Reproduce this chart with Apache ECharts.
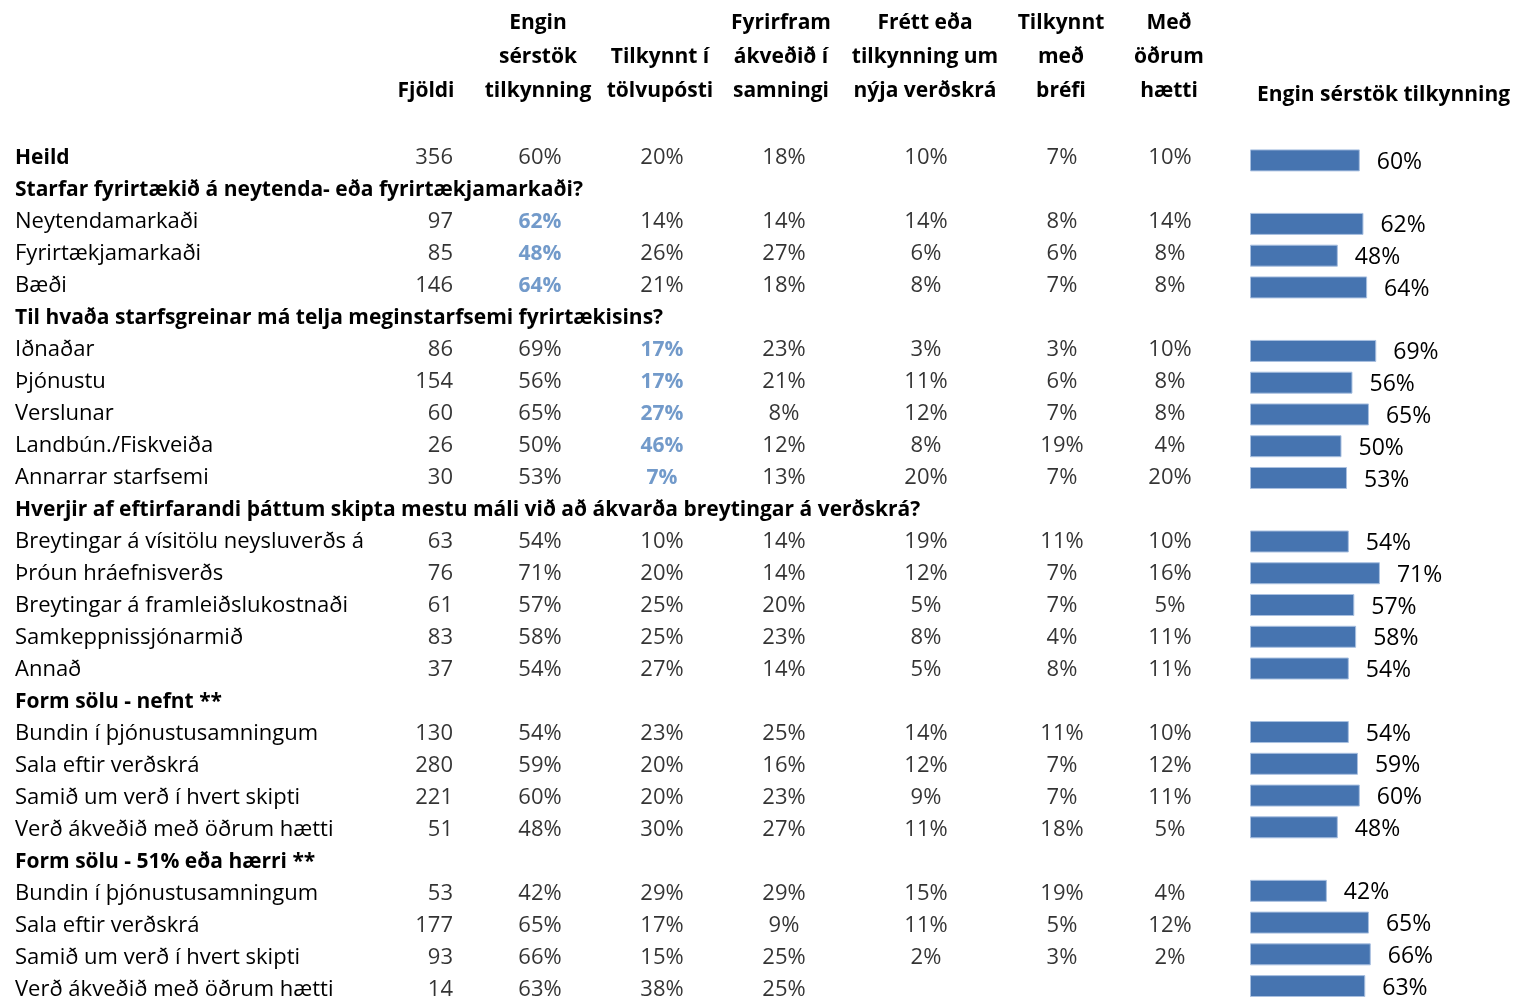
<!DOCTYPE html>
<html>
<head>
<meta charset="utf-8">
<script src="https://cdn.jsdelivr.net/npm/echarts@6/dist/echarts.min.js"></script>
<style>
  html, body { margin: 0; padding: 0; background: #fff; }
  #main { width: 1513px; height: 997px; }
</style>
</head>
<body>
<div id="main"></div>
<script>
// ------------------------- 数据 -------------------------
const rowLabels = [
  'Heild',
  'Starfar fyrirtækið á neytenda- eða fyrirtækjamarkaði?',
  'Neytendamarkaði', 'Fyrirtækjamarkaði', 'Bæði',
  'Til hvaða starfsgreinar má telja meginstarfsemi fyrirtækisins?',
  'Iðnaðar', 'Þjónustu', 'Verslunar', 'Landbún./Fiskveiða', 'Annarrar starfsemi',
  'Hverjir af eftirfarandi þáttum skipta mestu máli við að ákvarða breytingar á verðskrá?',
  'Breytingar á vísitölu neysluverðs á', 'Þróun hráefnisverðs', 'Breytingar á framleiðslukostnaði',
  'Samkeppnissjónarmið', 'Annað',
  'Form sölu - nefnt **',
  'Bundin í þjónustusamningum', 'Sala eftir verðskrá', 'Samið um verð í hvert skipti', 'Verð ákveðið með öðrum hætti',
  'Form sölu - 51% eða hærri **',
  'Bundin í þjónustusamningum', 'Sala eftir verðskrá', 'Samið um verð í hvert skipti', 'Verð ákveðið með öðrum hætti'
];
const boldRows = [0, 1, 5, 11, 17, 22];

const columnHeaders = [
  'Fjöldi',
  'Engin\nsérstök\ntilkynning',
  'Tilkynnt í\ntölvupósti',
  'Fyrirfram\nákveðið í\nsamningi',
  'Frétt eða\ntilkynning um\nnýja verðskrá',
  'Tilkynnt\nmeð\nbréfi',
  'Með\nöðrum\nhætti'
];

const fjoldi    = [356, null, 97, 85, 146, null, 86, 154, 60, 26, 30, null, 63, 76, 61, 83, 37, null, 130, 280, 221, 51, null, 53, 177, 93, 14];
const engin     = [60, null, 62, 48, 64, null, 69, 56, 65, 50, 53, null, 54, 71, 57, 58, 54, null, 54, 59, 60, 48, null, 42, 65, 66, 63];
const tolvupost = [20, null, 14, 26, 21, null, 17, 17, 27, 46, 7, null, 10, 20, 25, 25, 27, null, 23, 20, 20, 30, null, 29, 17, 15, 38];
const samningi  = [18, null, 14, 27, 18, null, 23, 21, 8, 12, 13, null, 14, 14, 20, 23, 14, null, 25, 16, 23, 27, null, 29, 9, 25, 25];
const verdskra  = [10, null, 14, 6, 8, null, 3, 11, 12, 8, 20, null, 19, 12, 5, 8, 5, null, 14, 12, 9, 11, null, 15, 11, 2, null];
const bref      = [7, null, 8, 6, 7, null, 3, 6, 7, 19, 7, null, 11, 7, 7, 4, 8, null, 11, 7, 7, 18, null, 19, 5, 3, null];
const odrum     = [10, null, 14, 8, 8, null, 10, 8, 8, 4, 20, null, 10, 16, 5, 11, 11, null, 10, 12, 11, 5, null, 4, 12, 2, null];

// 高亮（蓝色粗体）的行
const highlightEngin = [2, 3, 4];
const highlightTolvu = [6, 7, 8, 9, 10];

const barTitle = 'Engin sérstök tilkynning';

// ------------------------- 布局 -------------------------
const FONT = '"Open Sans", Lato, sans-serif';
const FS = 22;
const FS_BOLD = 21;
const headerX = [426, 538, 660, 781, 925, 1061, 1169];
const colX = [453, 540, 662, 784, 926, 1062, 1170];
const HIGHLIGHT = '#4F81BD';

const valueColumns = [
  { data: fjoldi, pct: false, hl: [] },
  { data: engin, pct: true, hl: highlightEngin },
  { data: tolvupost, pct: true, hl: highlightTolvu },
  { data: samningi, pct: true, hl: [] },
  { data: verdskra, pct: true, hl: [] },
  { data: bref, pct: true, hl: [] },
  { data: odrum, pct: true, hl: [] }
];

const tableSeries = valueColumns.map((col, c) => ({
  type: 'scatter',
  xAxisIndex: 0,
  yAxisIndex: 0,
  symbolSize: 0,
  silent: true,
  data: col.data.map((v, i) => {
    if (v == null) return null;
    const item = { value: [colX[c], i, v] };
    if (col.hl.includes(i)) {
      item.label = { color: HIGHLIGHT, fontWeight: 'bold', fontSize: FS_BOLD };
    }
    return item;
  }).filter(d => d),
  label: {
    show: true,
    position: c === 0 ? 'left' : 'inside',
    distance: 0,
    align: c === 0 ? 'right' : 'center',
    color: '#000',
    fontFamily: FONT,
    fontSize: FS,
    formatter: p => p.value[2] + (col.pct ? '%' : '')
  }
}));

const chart = echarts.init(document.getElementById('main'));
chart.setOption({
  backgroundColor: '#fff',
  animation: false,
  title: {
    text: barTitle,
    left: 1252,
    top: 80,
    textStyle: { fontFamily: FONT, fontSize: FS_BOLD, fontWeight: 'bold', color: '#000' }
  },
  grid: [
    { left: 0, top: 142, width: 1240, height: 864, outerBoundsMode: 'none', containLabel: false },
    { left: 1250, top: 144.5, width: 183, height: 857.5, outerBoundsMode: 'none', containLabel: false }
  ],
  xAxis: [
    {
      gridIndex: 0, type: 'value', min: 0, max: 1240, position: 'top',
      axisLine: { show: false }, axisTick: { show: false }, splitLine: { show: false },
      axisLabel: {
        customValues: headerX,
        formatter: v => columnHeaders[headerX.indexOf(v)] || '',
        fontFamily: FONT, fontSize: FS_BOLD, fontWeight: 'bold', color: '#000',
        lineHeight: 34, margin: 34
      }
    },
    {
      gridIndex: 1, type: 'value', min: 0, max: 100, show: false
    }
  ],
  yAxis: [
    {
      gridIndex: 0, type: 'category', data: rowLabels, inverse: true,
      axisLine: { show: false }, axisTick: { show: false }, splitLine: { show: false },
      axisLabel: {
        interval: 0, align: 'left', margin: -15,
        fontFamily: FONT, fontSize: FS, color: '#000',
        formatter: (v, idx) => boldRows.includes(idx) ? '{b|' + v + '}' : v,
        rich: { b: { fontFamily: FONT, fontSize: FS_BOLD, fontWeight: 'bold', color: '#000' } }
      }
    },
    {
      gridIndex: 1, type: 'category', data: rowLabels, inverse: true, show: false
    }
  ],
  series: tableSeries.concat([{
    type: 'bar',
    xAxisIndex: 1,
    yAxisIndex: 1,
    barWidth: 22,
    silent: true,
    data: engin.map(v => v == null ? '-' : v),
    itemStyle: { color: '#4674B0', borderColor: '#A9C0E0', borderWidth: 1 },
    label: {
      show: true, position: 'right', distance: 17, offset: [0, 2],
      fontFamily: FONT, fontSize: 23, color: '#000',
      formatter: '{c}%'
    }
  }])
});
</script>
</body>
</html>
